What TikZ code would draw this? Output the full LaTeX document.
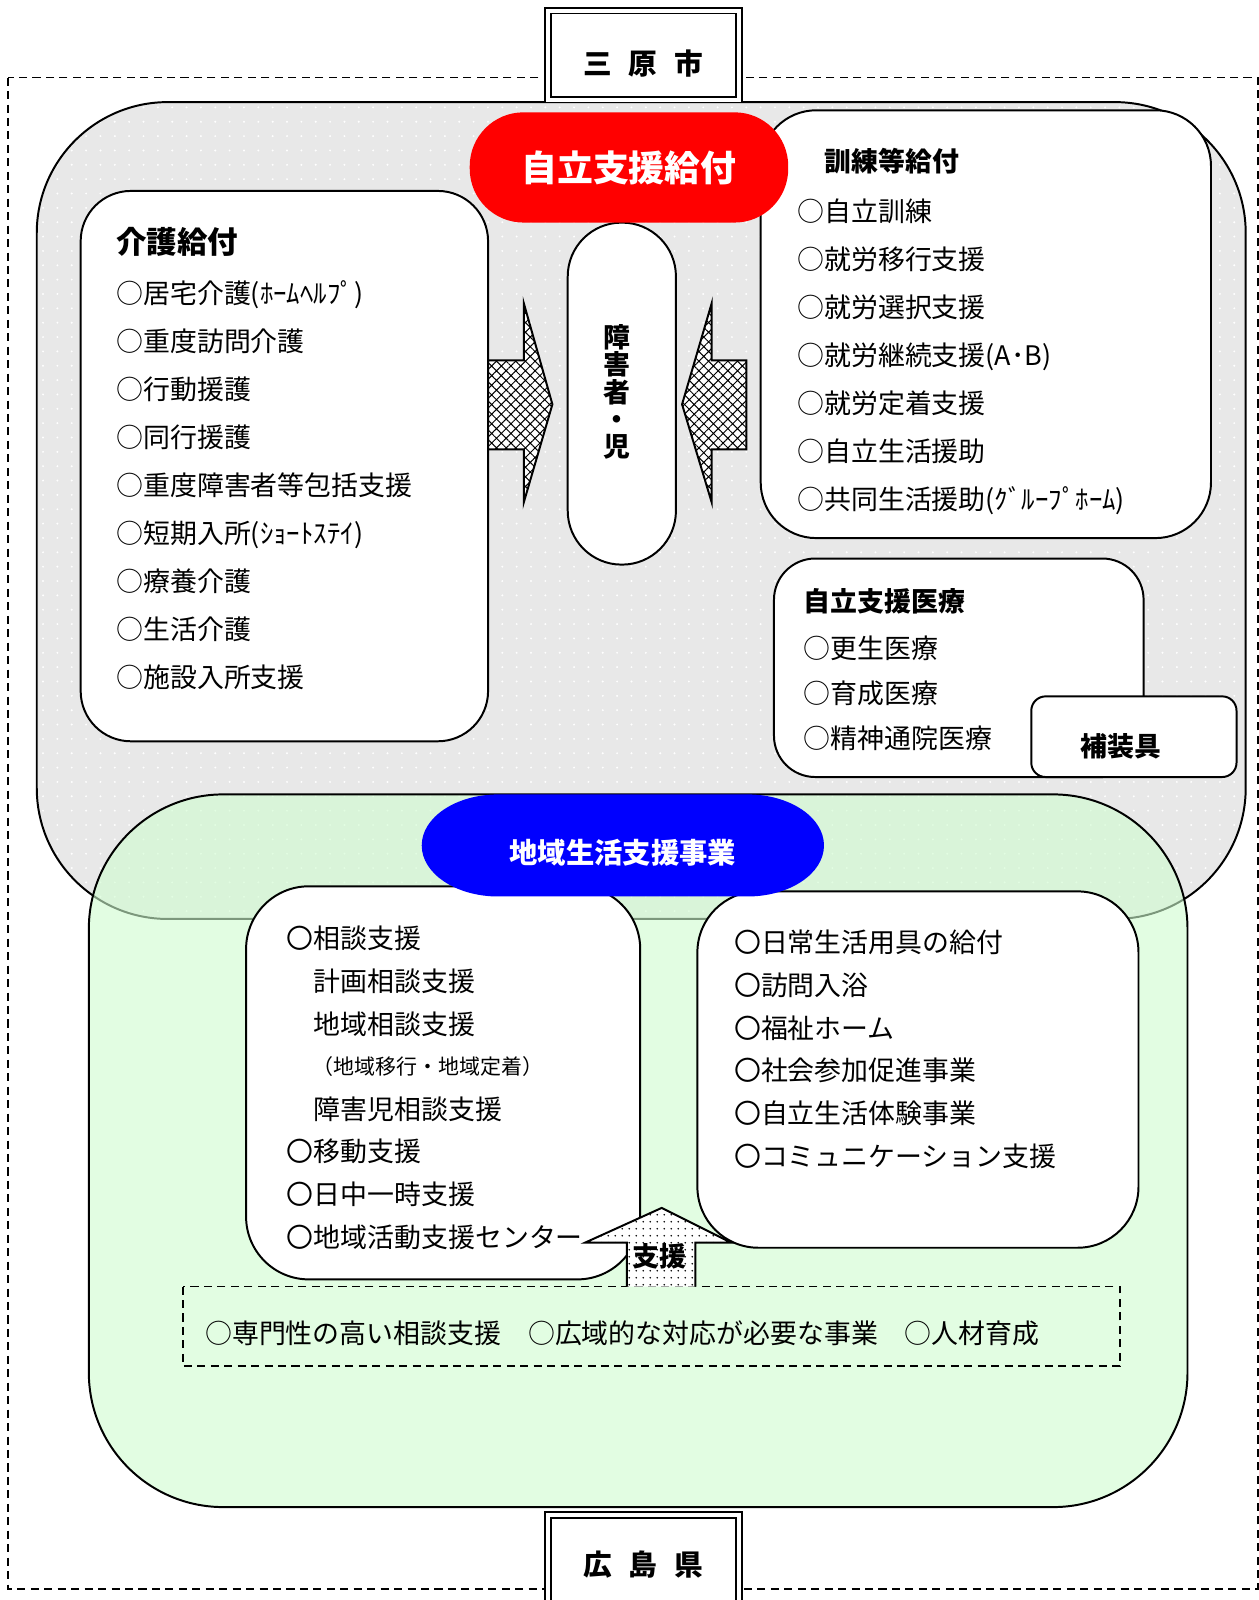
\documentclass[tikz,border=0pt]{standalone}
\usepackage{fontspec}
\setmainfont{Noto Sans CJK JP}
\usetikzlibrary{patterns.meta}
\definecolor{graybg}{HTML}{E8E8E8}
\definecolor{greenbg}{RGB}{207,252,207}
\tikzset{
  box/.style={draw, fill=white},
  cityframe/.style={draw, fill=white, double, double distance=2.2pt, line width=1pt},
  dashframe/.style={dash pattern=on 4.5pt off 3pt, line width=0.9pt},
  heading/.style={anchor=west, inner sep=0pt, font=\bfseries\fontsize{15}{18}\selectfont},
  itemlist/.style={anchor=north west, align=left, inner sep=0pt, font=\fontsize{15}{26.75}\selectfont},
  hatched/.style={fill=white, postaction={pattern={Hatch[angle=45, distance=3.8pt, line width=0.55pt]}}},
  dotfill/.style={fill=white, postaction={pattern={Dots[distance=4pt, radius=0.5pt]}}},
}

\begin{document}
\begin{tikzpicture}[x=0.02cm, y=-0.02cm, line width=1.1pt]
  \useasboundingbox (0,0) rectangle (1233,1567);
  \fill[white] (0,0) rectangle (1233,1567);
  \draw[dashframe] (8,76) rectangle (1232,1556);

  % city area and prefecture area
  \fill[graybg, rounded corners=73pt] (36,100) rectangle (1220,900);
  \fill[pattern={Dots[distance=8pt, radius=0.6pt]}, pattern color=white, rounded corners=73pt] (36,100) rectangle (1220,900);
  \draw[rounded corners=73pt] (36,100) rectangle (1220,900);
  \fill[greenbg, fill opacity=0.6, rounded corners=75pt] (87,778) rectangle (1163,1476);
  \draw[rounded corners=75pt] (87,778) rectangle (1163,1476);

  \draw[cityframe] (536.5,10.5) rectangle (723.5,97.5);
  \node[font=\bfseries\fontsize{16}{18}\selectfont] (mihara) at (630,62) {三\hspace{0.6em}原\hspace{0.6em}市};
  \draw[cityframe] (536.5,1483.5) rectangle (723.5,1580);
  \node[font=\bfseries\fontsize{16}{18}\selectfont] (hiroshima) at (630,1532) {広\hspace{0.6em}島\hspace{0.6em}県};

  % kaigo
  \draw[box, rounded corners=28pt] (79,187) rectangle (478,726);
  \node[heading, font=\bfseries\fontsize{17}{20}\selectfont] (kaigoT) at (113,237) {介護給付};
  \node[itemlist] (kaigo) at (113,274) {○居宅介護(ﾎｰﾑﾍﾙﾌﾟ)\\○重度訪問介護\\○行動援護\\○同行援護\\○重度障害者等包括支援\\○短期入所(ｼｮｰﾄｽﾃｲ)\\○療養介護\\○生活介護\\○施設入所支援};

  % kunren
  \draw[box, rounded corners=31pt] (745,108) rectangle (1186,527);
  \node[heading] (kunrenT) at (807,158) {訓練等給付};
  \node[itemlist] (kunren) at (780,194) {○自立訓練\\○就労移行支援\\○就労選択支援\\○就労継続支援(A･B)\\○就労定着支援\\○自立生活援助\\○共同生活援助(ｸﾞﾙｰﾌﾟﾎｰﾑ)};

  % iryo
  \draw[box, rounded corners=23pt] (758,547) rectangle (1120,761);
  \node[heading] (iryoT) at (786,589) {自立支援医療};
  \node[itemlist, font=\fontsize{15}{25}\selectfont] (iryo) at (786,622) {○更生医療\\○育成医療\\○精神通院医療};
  \draw[box, rounded corners=8pt] (1010,682) rectangle (1211,761);
  \node[heading, anchor=center] (hosogu) at (1098,731) {補装具};

  % person
  \node[box, rounded corners=30pt, minimum width=2.12cm, minimum height=6.7cm] (shogai) at (609,385.5) {};
  \node[align=center, font=\bfseries\fontsize{15}{15.2}\selectfont] (shogaiT) at (604,384) {障\\害\\者\\・\\児};
  \draw[hatched] (478,353) -- (513,353) -- (513,297) -- (541,396) -- (513,492) -- (513,440) -- (478,440) -- cycle;
  \draw[hatched] (731,353) -- (697,353) -- (697,297) -- (668,396) -- (697,492) -- (697,440) -- (731,440) -- cycle;

  \node[fill=red, rounded corners=30pt, minimum width=6.24cm, minimum height=2.16cm, text=white,
        font=\bfseries\fontsize{20}{24}\selectfont] (jiritsu) at (616,164) {自立支援給付};

  % chiiki
  \draw[box, rounded corners=35pt] (241,868) rectangle (627,1253);
  \node[itemlist, font=\fontsize{15}{23.8}\selectfont] (soudan) at (280,906) {〇相談支援\\　計画相談支援\\　地域相談支援};
  \node[anchor=west, inner sep=0pt, font=\fontsize{11.7}{14}\selectfont] (ikou) at (305,1045) {（地域移行・地域定着）};
  \node[itemlist, font=\fontsize{15}{23.8}\selectfont] (idou) at (280,1073) {　障害児相談支援\\〇移動支援\\〇日中一時支援\\〇地域活動支援センター};
  \draw[box, rounded corners=34pt] (683,873) rectangle (1115,1222);
  \node[itemlist, font=\fontsize{15}{23.8}\selectfont] (nichijo) at (718,910) {〇日常生活用具の給付\\〇訪問入浴\\〇福祉ホーム\\〇社会参加促進事業\\〇自立生活体験事業\\〇コミュニケーション支援};

  \fill[blue] (488,778) -- (732,778) arc[start angle=90, end angle=-90, x radius=1.5cm, y radius=1cm]
     -- (488,878) arc[start angle=270, end angle=90, x radius=1.5cm, y radius=1cm] -- cycle;
  \node[text=white, font=\bfseries\fontsize{15.8}{18}\selectfont] (chiiki) at (610,835) {地域生活支援事業};

  % prefecture support
  \draw[dashframe] (179,1260) rectangle (1097,1338);
  \node[anchor=west, inner sep=0pt, font=\fontsize{15}{18}\selectfont] (ken) at (200,1306) {○専門性の高い相談支援　○広域的な対応が必要な事業　○人材育成};
  \draw[dotfill] (614,1260) -- (614,1217) -- (573,1217) -- (648,1183) -- (716,1217) -- (681,1217) -- (681,1260);
  \node[heading, anchor=center] (shien) at (646,1230) {支援};
\end{tikzpicture}
\end{document}
